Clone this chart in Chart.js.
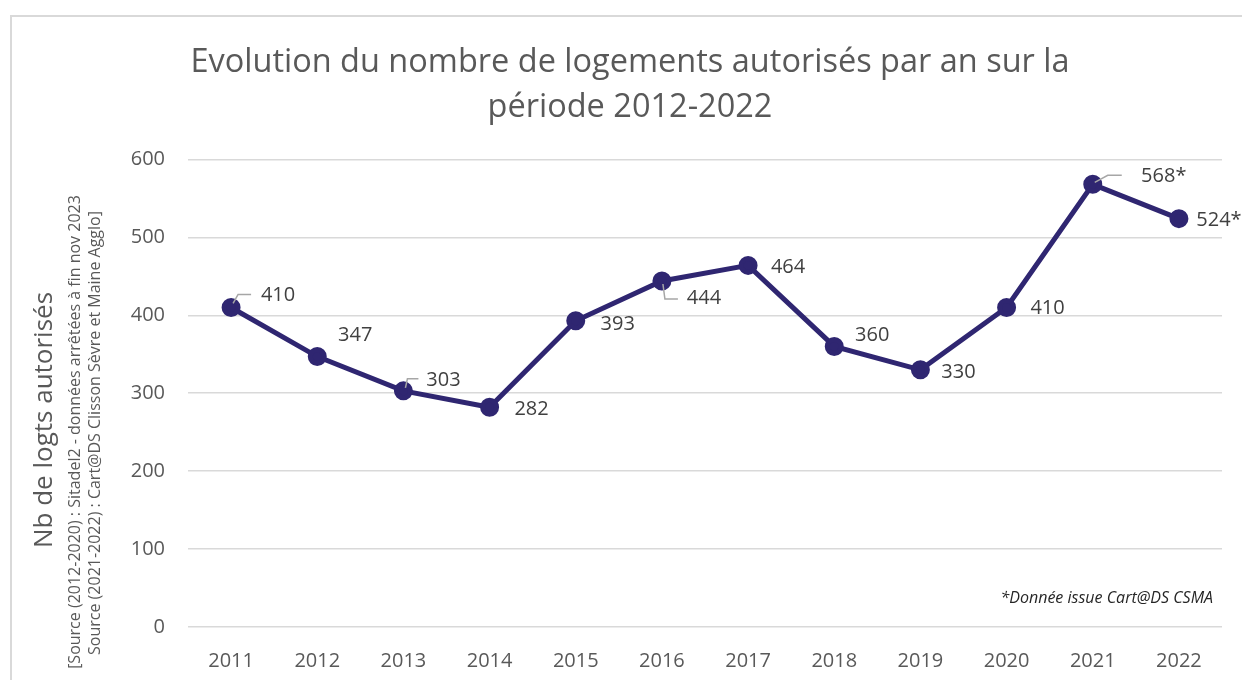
<!DOCTYPE html>
<html>
<head>
<meta charset="utf-8">
<script src="https://cdn.jsdelivr.net/npm/chart.js@4"></script>
<style>
  body { margin: 0; background: #fff; overflow: hidden; width: 1242px; height: 680px; }
  #frame { position: absolute; left: 10px; top: 15px; width: 1300px; height: 700px;
           border-left: 2px solid #d9d9d9; border-top: 2px solid #d9d9d9; }
  #wrap { position: absolute; left: 12px; top: 0; width: 1240px; height: 680px; }
</style>
</head>
<body>
<div id="frame"></div>
<div id="wrap"><canvas id="myChart"></canvas></div>
<script>
// =====================
// DATA SECTION
// =====================
var years = ["2011", "2012", "2013", "2014", "2015", "2016", "2017", "2018", "2019", "2020", "2021", "2022"];
var logements = [410, 347, 303, 282, 393, 444, 464, 360, 330, 410, 568, 524];
var valueLabels = ["410", "347", "303", "282", "393", "444", "464", "360", "330", "410", "568*", "524*"];
var yTicks = [0, 100, 200, 300, 400, 500, 600];

var chartTitle = ["Evolution du nombre de logements autorisés par an sur la", "période 2012-2022"];
var yTitle = "Nb de logts autorisés";
var ySource = ["[Source (2012-2020) : Sitadel2 - données arrêtées à fin nov 2023",
               "Source (2021-2022) : Cart@DS Clisson Sèvre et Maine Agglo]"];
var note = "*Donnée issue Cart@DS CSMA";

// label placement (offset from the point, in px) and leader lines
var labelOffsets = [[47, -12], [38, -21], [40, -11], [42, 2], [42, 4], [42, 17],
                    [40, 2], [38, -11], [38, 2], [41, 1], [71, -8], [40, 2]];
var leaders = {
    0: [[2, -4], [7, -13], [20, -13]],
    2: [[2, -3], [4, -12], [15, -12]],
    5: [[1, 3], [3, 18], [16, 18]],
    10: [[2, -2], [15, -9], [29, -9]]
};

var FONT = "'Open Sans', 'Noto Sans', sans-serif";
var GREY = "#595959";

// =====================
// PLUGINS
// =====================

// draws the value labels next to each point
var valueLabelPlugin = {
    id: "valueLabels",
    afterDatasetsDraw: function (chart) {
        var ctx = chart.ctx;
        var meta = chart.getDatasetMeta(0);
        ctx.save();
        meta.data.forEach(function (pt, i) {
            if (leaders[i]) {
                ctx.strokeStyle = "#a6a6a6";
                ctx.lineWidth = 1.5;
                ctx.beginPath();
                leaders[i].forEach(function (p, k) {
                    if (k == 0) ctx.moveTo(pt.x + p[0], pt.y + p[1]);
                    else ctx.lineTo(pt.x + p[0], pt.y + p[1]);
                });
                ctx.stroke();
            }
            ctx.fillStyle = "#404040";
            ctx.font = "20px " + FONT;
            ctx.textAlign = "center";
            ctx.textBaseline = "middle";
            ctx.fillText(valueLabels[i], pt.x + labelOffsets[i][0], pt.y + labelOffsets[i][1]);
        });
        ctx.restore();
    }
};

// y axis titles (two sizes) and the footnote
var extraTextPlugin = {
    id: "extraText",
    afterDraw: function (chart) {
        var ctx = chart.ctx;
        var area = chart.chartArea;
        ctx.save();
        ctx.fillStyle = GREY;
        ctx.textAlign = "center";
        ctx.textBaseline = "middle";

        ctx.save();
        ctx.translate(33, 420);
        ctx.rotate(-Math.PI / 2);
        ctx.font = "26px " + FONT;
        ctx.fillText(yTitle, 0, 0);
        ctx.restore();

        ctx.font = "16px " + FONT;
        ctx.save();
        ctx.translate(63, 432);
        ctx.rotate(-Math.PI / 2);
        ctx.fillText(ySource[0], 0, 0);
        ctx.restore();
        ctx.save();
        ctx.translate(83, 433);
        ctx.rotate(-Math.PI / 2);
        ctx.fillText(ySource[1], 0, 0);
        ctx.restore();

        ctx.fillStyle = "#262626";
        ctx.font = "italic 16px " + FONT;
        ctx.textAlign = "right";
        ctx.fillText(note, area.right - 9, area.bottom - 29);
        ctx.restore();
    }
};

// =====================
// CHART
// =====================
const ctx = document.getElementById("myChart");

const myLineChart = new Chart(ctx, {
    type: "line",
    data: {
        labels: years,
        datasets: [{
            label: "Logements autorisés",
            data: logements,
            borderColor: "#2f2671",
            backgroundColor: "#2f2671",
            borderWidth: 5,
            pointRadius: 7,
            pointHoverRadius: 7,
            tension: 0,
            clip: false
        }]
    },
    options: {
        responsive: true,
        maintainAspectRatio: false,
        animation: false,
        // left padding only shifts the title centre, the y axis width is fixed below
        layout: { padding: { left: 26, right: 30, top: 0, bottom: 0 } },
        plugins: {
            legend: { display: false },
            tooltip: { enabled: false },
            title: {
                display: true,
                text: chartTitle,
                color: GREY,
                font: { family: FONT, size: 32.5, weight: "normal", lineHeight: 1.36 },
                padding: { top: 41, bottom: 30 }
            }
        },
        scales: {
            x: {
                offset: true,
                grid: { display: false },
                border: { display: false },
                ticks: { color: GREY, font: { family: FONT, size: 20 }, padding: 14, maxRotation: 0 },
                afterFit: function (s) { s.height = 53; }
            },
            y: {
                min: 0,
                max: 600,
                afterBuildTicks: function (s) { s.ticks = yTicks.map(function (v) { return { value: v }; }); },
                grid: { color: "#d9d9d9", lineWidth: 1.5, drawTicks: false },
                border: { display: false },
                ticks: { color: GREY, font: { family: FONT, size: 20 }, padding: 23 },
                afterFit: function (s) { s.width = 150; }
            }
        }
    },
    plugins: [valueLabelPlugin, extraTextPlugin]
});
</script>
</body>
</html>
